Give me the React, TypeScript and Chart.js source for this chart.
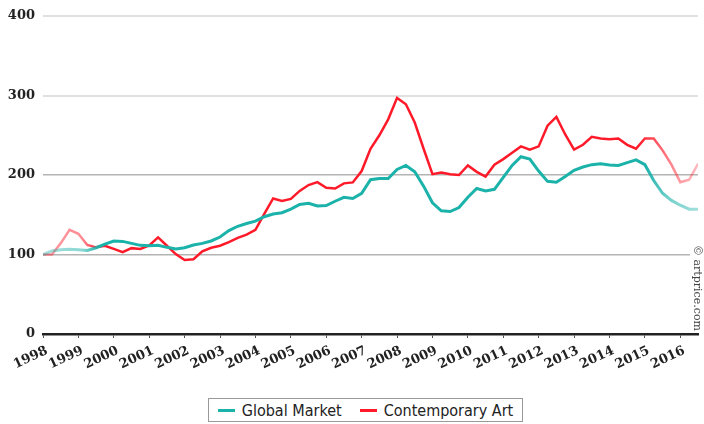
import React, { useEffect, useRef } from "react";
import { Chart, registerables } from "chart.js";

Chart.register(...registerables);

const startYear = 1998;
const endYear = 2016.5;
const quartersPerYear = 4;
const yearTicks = [1998, 1999, 2000, 2001, 2002, 2003, 2004, 2005, 2006, 2007, 2008, 2009, 2010, 2011, 2012, 2013, 2014, 2015, 2016];
const yTicks = [0, 100, 200, 300, 400];

// quarterly index values, 1998 Q1 = 100
const globalMarket = [
  100, 104.5, 106, 106.5, 106, 105, 108.5, 113,
  117, 116.5, 114, 111.5, 111, 111.5, 109, 107,
  108.5, 112, 114, 117, 122, 130, 135.5, 139,
  142, 147.5, 151, 152.6, 157, 163, 164.5, 161,
  161.5, 167, 172, 170.5, 177, 194, 195.5, 195.5,
  207, 212, 204, 186, 165, 155, 154, 159,
  172, 183, 180, 182, 197, 212, 223, 220,
  205, 192, 191, 198, 206, 210, 213, 214,
  212.5, 212, 215.5, 219, 213, 193, 177, 168,
  162, 157, 157,
];

const contemporaryArt = [
  100, 100, 114, 131, 126, 112, 109, 111,
  107, 103, 108, 107, 111.5, 121.5, 111, 100.5,
  93, 94, 104, 108.5, 111, 115.5, 121, 125,
  131, 151, 170.5, 167.3, 170, 180, 187.4, 191,
  184, 183, 189.5, 190.7, 205, 233, 250, 270,
  297, 289, 266, 233, 201, 203, 201, 200,
  212, 204, 198, 213, 220, 228, 236, 232,
  236, 262, 273, 251, 232, 238, 248, 246,
  245, 246, 238, 233, 246, 246, 231, 213,
  191, 194, 214,
];

const seriesNames = ["Global Market", "Contemporary Art"];
const tealRgb = "27,178,170";
const redRgb = "255,26,42";

export default function App() {
  const canvasRef = useRef<HTMLCanvasElement>(null);

  useEffect(() => {
    if (!canvasRef.current) return;
    const toPoints = (arr: number[]) =>
      arr.map((v, i) => ({ x: startYear + i / quartersPerYear, y: v }));

    const fade = (rgb: string, stops: [number, number][]) => (ctx: any) => {
      const chart = ctx.chart;
      const a = chart.chartArea;
      if (!a) return `rgb(${rgb})`;
      const g = chart.ctx.createLinearGradient(a.left, 0, a.right, 0);
      stops.forEach(([yr, alpha]) => {
        const f = Math.min(1, Math.max(0, (yr - startYear) / (endYear - startYear)));
        g.addColorStop(f, `rgba(${rgb},${alpha})`);
      });
      return g;
    };

    const copyrightPlugin = {
      id: "copyright",
      afterDraw(chart: any) {
        const c = chart.ctx as CanvasRenderingContext2D;
        const a = chart.chartArea;
        c.save();
        c.translate(a.right - 1, 245);
        c.rotate(Math.PI / 2);
        c.font = "11px 'DejaVu Serif', serif";
        const text = "© artprice.com";
        const w = c.measureText(text).width;
        c.fillStyle = "#ffffff";
        c.fillRect(-2, -7, w + 4, 14);
        c.fillStyle = "#444";
        c.textBaseline = "middle";
        c.textAlign = "left";
        c.fillText(text, 0, 0);
        c.restore();
      },
    };

    const chart = new Chart(canvasRef.current, {
      type: "line",
      data: {
        datasets: [
          {
            label: seriesNames[0],
            data: toPoints(globalMarket),
            borderColor: fade(tealRgb, [
              [1998, 0.4],
              [1999.1, 0.5],
              [1999.6, 1],
              [2015, 1],
              [2015.7, 0.6],
              [2016.5, 0.4],
            ]),
            borderWidth: 3,
            pointRadius: 0,
            tension: 0,
          },
          {
            label: seriesNames[1],
            data: toPoints(contemporaryArt),
            borderColor: fade(redRgb, [
              [1998, 0.45],
              [1999.1, 0.5],
              [1999.6, 1],
              [2014.8, 1],
              [2015.8, 0.5],
              [2016.5, 0.3],
            ]),
            borderWidth: 2.5,
            pointRadius: 0,
            tension: 0,
          },
        ],
      },
      options: {
        animation: false,
        responsive: true,
        maintainAspectRatio: false,
        layout: { padding: { left: 8, top: 16, right: 6, bottom: 0 } },
        plugins: {
          legend: { display: false },
          tooltip: { enabled: false },
        },
        scales: {
          x: {
            type: "linear",
            min: startYear,
            max: endYear,
            afterFit: (s: any) => {
              s.height = 62;
            },
            afterBuildTicks: (s: any) => {
              s.ticks = yearTicks.map((v) => ({ value: v }));
            },
            ticks: {
              autoSkip: false,
              includeBounds: false,
              minRotation: 25,
              maxRotation: 25,
              padding: 5,
              labelOffset: 4,
              color: "#222",
              font: { family: "'DejaVu Serif', serif", size: 13, weight: "bold" },
              callback: (v: any) => String(v),
            },
            grid: {
              drawOnChartArea: false,
              drawTicks: true,
              tickLength: 4,
              color: "#555",
              lineWidth: 1,
            },
            border: { display: true, color: "#222", width: 2.5 },
          },
          y: {
            min: 0,
            max: 400,
            afterFit: (s: any) => {
              s.width = 35;
            },
            afterBuildTicks: (s: any) => {
              s.ticks = yTicks.map((v) => ({ value: v }));
            },
            ticks: {
              padding: 8,
              color: "#222",
              font: { family: "'DejaVu Serif', serif", size: 13, weight: "bold" },
              callback: (v: any) => String(v),
            },
            grid: {
              drawTicks: false,
              color: (ctx: any) => {
                const v = ctx.tick ? ctx.tick.value : 0;
                if (v === 0) return "rgba(0,0,0,0)";
                return v <= 200 ? "#b4b4b4" : "#e0e0e0";
              },
              lineWidth: (ctx: any) => {
                const v = ctx.tick ? ctx.tick.value : 0;
                return v <= 200 ? 1.5 : 2;
              },
            },
            border: { display: false },
          },
        },
      },
      plugins: [copyrightPlugin],
    });

    return () => chart.destroy();
  }, []);

  const legendFont = "'Liberation Sans Narrow', 'DejaVu Sans Condensed', 'Liberation Sans', sans-serif";

  return (
    <div
      style={{
        position: "fixed",
        left: 0,
        top: 0,
        width: 704,
        height: 424,
        background: "#fff",
        overflow: "hidden",
      }}
    >
      <div style={{ position: "absolute", left: 0, top: 0, width: 704, height: 396 }}>
        <canvas ref={canvasRef} />
      </div>
      <div
        style={{
          position: "absolute",
          left: 208,
          top: 398,
          width: 315,
          height: 24,
          border: "1px solid #999",
          boxSizing: "border-box",
          display: "flex",
          alignItems: "center",
          justifyContent: "center",
          gap: 18,
          fontFamily: legendFont,
          fontSize: 16,
          color: "#222",
        }}
      >
        {seriesNames.map((name, i) => (
          <div key={name} style={{ display: "flex", alignItems: "center", gap: 7 }}>
            <span
              style={{
                display: "inline-block",
                width: 17,
                height: 3,
                background: i === 0 ? `rgb(${tealRgb})` : `rgb(${redRgb})`,
              }}
            />
            <span>{name}</span>
          </div>
        ))}
      </div>
    </div>
  );
}
